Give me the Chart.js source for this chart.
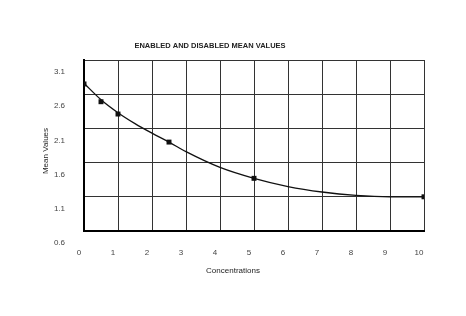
<!DOCTYPE html>
<html>
<head>
<meta charset="utf-8">
<script src="https://cdn.jsdelivr.net/npm/chart.js@4/dist/chart.umd.min.js"></script>
<style>
html,body{margin:0;padding:0;background:#fff;}
#wrap{width:466px;height:316px;position:relative;}
</style>
</head>
<body>
<div id="wrap"><canvas id="c" width="466" height="316"></canvas></div>
<script>
const chartTitle = 'ENABLED AND DISABLED MEAN VALUES';
const xTitle = 'Concentrations';
const yTitle = 'Mean Values';
const xTickLabels = ['0','1','2','3','4','5','6','7','8','9','10'];
const yTickLabels = ['0.6','1.1','1.6','2.1','2.6','3.1'];
// measured points
const pointX = [0, 0.5, 1, 2.5, 5, 10];
const pointY = [2.75, 2.49, 2.31, 1.90, 1.37, 1.10];
// fitted curve
const curveX = [0, 0.5, 1, 1.5, 2, 2.5, 3, 4, 5, 6, 7, 8, 9, 10];
const curveY = [2.76, 2.52, 2.33, 2.17, 2.03, 1.90, 1.76, 1.53, 1.37, 1.25, 1.17, 1.12, 1.10, 1.10];

const titlesPlugin = {
  id: 'titles',
  afterDraw(chart) {
    const ctx = chart.ctx, a = chart.chartArea;
    ctx.save();
    ctx.fillStyle = '#222';
    ctx.textAlign = 'center';
    ctx.textBaseline = 'middle';
    ctx.font = 'bold 7.5px "Liberation Sans", Arial, sans-serif';
    ctx.fillText(chartTitle, a.left + 126, a.top - 14);
    ctx.font = '8px "Liberation Sans", Arial, sans-serif';
    ctx.fillText(xTitle, a.left + 149, a.bottom + 40);
    ctx.translate(a.left - 38, a.top + 91);
    ctx.rotate(-Math.PI / 2);
    ctx.fillText(yTitle, 0, 0);
    ctx.restore();
  }
};

new Chart(document.getElementById('c'), {
  type: 'scatter',
  data: {
    datasets: [
      {
        type: 'line',
        data: curveX.map((x, i) => ({x: x, y: curveY[i]})),
        borderColor: '#111',
        borderWidth: 1.3,
        pointRadius: 0,
        fill: false,
        cubicInterpolationMode: 'monotone'
      },
      {
        data: pointX.map((x, i) => ({x: x, y: pointY[i]})),
        backgroundColor: '#111',
        borderColor: '#111',
        pointStyle: 'rect',
        pointRadius: 3.5,
        borderWidth: 0
      }
    ]
  },
  options: {
    responsive: false,
    animation: false,
    layout: { padding: { left: 54, right: 42, top: 60, bottom: 55 } },
    plugins: { legend: { display: false }, title: { display: false }, tooltip: { enabled: false } },
    scales: {
      x: {
        type: 'linear', min: 0, max: 10,
        afterFit(s) { s.height = 30; },
        border: { color: '#000', width: 2 },
        grid: { color: '#333', lineWidth: 1, drawTicks: false },
        ticks: {
          stepSize: 1, padding: 17, labelOffset: -5, color: '#444',
          font: { family: '"Liberation Sans", Arial, sans-serif', size: 8 },
          callback: (v, i) => xTickLabels[i]
        }
      },
      y: {
        type: 'linear', min: 0.6, max: 3.1,
        afterFit(s) { s.width = 30; },
        border: { color: '#000', width: 2 },
        grid: { color: '#333', lineWidth: 1, drawTicks: false },
        ticks: {
          stepSize: 0.5, padding: 19, labelOffset: 12, color: '#444',
          font: { family: '"Liberation Sans", Arial, sans-serif', size: 8 },
          callback: (v, i) => yTickLabels[i]
        }
      }
    }
  },
  plugins: [titlesPlugin]
});
</script>
</body>
</html>
